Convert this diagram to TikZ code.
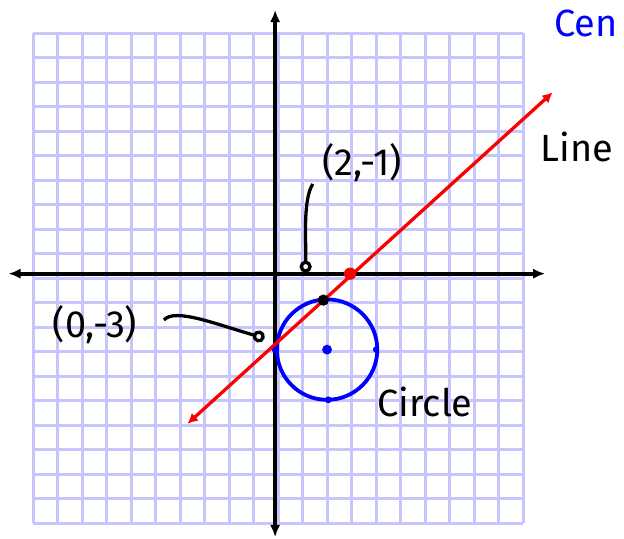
\documentclass[tikz,border=0pt]{standalone}
\usepackage{fontspec}
\setmainfont{Fira Sans}
\usepackage{tikz}
\usetikzlibrary{arrows.meta, positioning}
\definecolor{gridblue}{RGB}{198, 198, 252}
\definecolor{penblue}{RGB}{0, 0, 255}
\definecolor{penred}{RGB}{250, 0, 0}

\begin{document}
\begin{tikzpicture}[x=0.5cm,y=0.5cm,
    hand/.style={font=\fontsize{22}{24}\selectfont},
    pointer/.style={line width=1.9pt,-{Circle[open,length=7pt,width=7pt]}}]
  \useasboundingbox (-11.35,-10.65) rectangle (14.12,11.35);
  % graph paper
  \draw[gridblue,line width=1.8pt,step=0.5cm](-10,-10) grid (10,10);
  % axes
  \coordinate (xL) at (-11.0,0.18);
  \coordinate (xR) at (10.9,0.18);
  \coordinate (yB) at (-0.12,-10.57);
  \coordinate (yT) at (-0.12,10.94);
  \draw[line width=2.2pt,{Latex[length=7pt,width=6pt]}-{Latex[length=7pt,width=6pt]}](xL)--(xR);
  \draw[line width=2.2pt,{Latex[length=7pt,width=6pt]}-{Latex[length=7pt,width=6pt]}](yB)--(yT);
  % circle
  \coordinate (ctr) at (2.0,-2.92);
  \draw[penblue,line width=2.2pt](ctr) circle(2.05);
  \fill[penblue](ctr) circle(0.2);
  \fill[penblue](-0.12,-2.92) circle(0.14);
  \fill[penblue](4.0,-2.92) circle(0.13);
  \fill[penblue](2.05,-4.97) circle(0.14);
  % line
  \coordinate (lA) at (-3.7,-5.95);
  \coordinate (lB) at (11.21,7.58);
  \draw[penred,line width=1.9pt,{Latex[length=6pt,width=6pt]}-{Latex[length=6pt,width=6pt]}](lA)--(lB);
  \fill[penred](2.94,0.18) circle(0.25);
  \fill(1.85,-0.9) circle(0.23);
  % labels
  \node[hand,penblue,anchor=east] (cen) at (14.1,10.4) {Cen};
  \node[hand] (line) at (12.2,5.35) {Line};
  \node[hand] (circ) at (6.0,-5.06) {Circle};
  \node[hand] (ptTop) at (3.43,4.73) {(2,-1)};
  \node[hand] (ptLeft) at (-7.47,-1.92) {(0,-3)};
  \coordinate (tipTop) at (1.12,0.22);
  \coordinate (tipLeft) at (-0.55,-2.45);
  \draw[pointer]([xshift=-2pt,yshift=2pt]ptTop.south west)
    .. controls (1.0,3.2) and (1.15,1.5) .. (tipTop);
  \draw[pointer]([xshift=12pt,yshift=3pt]ptLeft.east)
    .. controls (-4.2,-1.2) and (-2.5,-1.9) .. (tipLeft);
\end{tikzpicture}
\end{document}
